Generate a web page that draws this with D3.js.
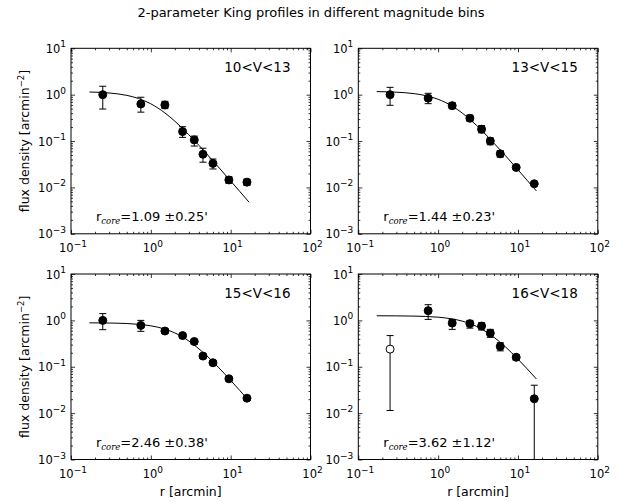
<!DOCTYPE html>
<html>
<head>
<meta charset="utf-8">
<script src="https://cdn.jsdelivr.net/npm/d3@7"></script>
<style>
  body { margin: 0; background: #fff; }
  text { font-family: "DejaVu Sans", sans-serif; fill: #000; }
</style>
</head>
<body>
<div id="chart"></div>
<script>
// ---- data ----
const radii = [0.25, 0.75, 1.5, 2.5, 3.5, 4.5, 6, 9.5, 16];
const binLabels = ["10<V<13", "13<V<15", "15<V<16", "16<V<18"];
const coreRadius = ["1.09", "1.44", "2.46", "3.62"];
const coreError = ["0.25", "0.23", "0.38", "1.12"];

// 10<V<13
const flux1 = [1.0, 0.63, 0.6, 0.16, 0.106, 0.052, 0.033, 0.0145, 0.013];
const hi1   = [1.52, 0.88, 0.72, 0.204, 0.128, 0.07, 0.041, 0.017, 0.015];
const lo1   = [0.49, 0.42, 0.5, 0.12, 0.078, 0.035, 0.025, 0.0123, 0.011];
// 13<V<15
const flux2 = [1.0, 0.84, 0.58, 0.31, 0.18, 0.1, 0.053, 0.027, 0.012];
const hi2   = [1.44, 1.07, 0.67, 0.36, 0.215, 0.117, 0.062, 0.029, 0.013];
const lo2   = [0.59, 0.64, 0.5, 0.27, 0.15, 0.083, 0.045, 0.025, 0.011];
// 15<V<16
const flux3 = [1.0, 0.78, 0.59, 0.47, 0.35, 0.17, 0.122, 0.055, 0.021];
const hi3   = [1.4, 1.0, 0.66, 0.52, 0.39, 0.19, 0.135, 0.06, 0.023];
const lo3   = [0.63, 0.58, 0.52, 0.42, 0.31, 0.15, 0.11, 0.05, 0.019];
// 16<V<18 (first point is the open circle, last lower error runs off the axis)
const flux4 = [0.24, 1.62, 0.875, 0.85, 0.755, 0.53, 0.274, 0.16, 0.0204];
const hi4   = [0.47, 2.18, 1.05, 1.0, 0.89, 0.64, 0.33, 0.18, 0.04];
const lo4   = [0.0114, 1.05, 0.64, 0.68, 0.62, 0.43, 0.22, 0.14, 0];
const hollow4 = [true, false, false, false, false, false, false, false, false];

// fitted King curves, sampled from the figure
const fitR = [0.17, 0.3, 0.5, 0.7, 1, 1.5, 2, 3, 4, 5, 7, 10, 13, 17];
const fit1 = [1.142, 1.088, 0.967, 0.828, 0.635, 0.404, 0.268, 0.136, 0.081, 0.053, 0.0277, 0.0137, 0.0082, 0.0048];
const fit2 = [1.164, 1.131, 1.053, 0.954, 0.796, 0.566, 0.403, 0.221, 0.135, 0.090, 0.0479, 0.0240, 0.0143, 0.0084];
const fit3 = [0.886, 0.877, 0.855, 0.823, 0.764, 0.649, 0.536, 0.358, 0.244, 0.174, 0.0978, 0.0508, 0.0308, 0.0183];
const fit4 = [1.257, 1.251, 1.236, 1.215, 1.171, 1.075, 0.965, 0.747, 0.567, 0.433, 0.266, 0.146, 0.0906, 0.0546];

const xTicks = [0.1, 1, 10, 100];
const xTickExp = ["\u22121", "0", "1", "2"];
const yTicks = [0.001, 0.01, 0.1, 1, 10];
const yTickExp = ["\u22123", "\u22122", "\u22121", "0", "1"];

const panels = [
  { flux: flux1, hi: hi1, lo: lo1, fit: fit1, hollow: [] },
  { flux: flux2, hi: hi2, lo: lo2, fit: fit2, hollow: [] },
  { flux: flux3, hi: hi3, lo: lo3, fit: fit3, hollow: [] },
  { flux: flux4, hi: hi4, lo: lo4, fit: fit4, hollow: hollow4 },
];

// ---- layout ----
const width = 623, height = 502;
const W = 239.5, H = 185.5;
const lefts = [71, 358.3];
const tops = [48.3, 274];

const svg = d3.select("#chart").append("svg")
  .attr("width", width).attr("height", height);

svg.append("text")
  .attr("x", 311).attr("y", 17)
  .attr("text-anchor", "middle")
  .style("font-size", "13px")
  .text("2-parameter King profiles in different magnitude bins");

const x = d3.scaleLog().domain([0.1, 100]).range([0, W]);
const y = d3.scaleLog().domain([1e-3, 10]).range([H, 0]);
const xMinor = x.ticks().filter(v => !xTicks.includes(v));
const yMinor = y.ticks().filter(v => !yTicks.some(t => Math.abs(t - v) < 1e-12));

const line = d3.line()
  .x(d => x(d[0]))
  .y(d => y(d[1]))
  .curve(d3.curveMonotoneX);

function tickAxes(g) {
  const add = (axis, tr) => g.append("g")
    .attr("transform", tr)
    .call(axis.tickSizeOuter(0).tickFormat(""))
    .call(a => a.select(".domain").remove())
    .call(a => a.selectAll("line").attr("stroke-width", 0.8));
  add(d3.axisBottom(x).tickValues(xTicks).tickSize(-4), `translate(0,${H})`);
  add(d3.axisBottom(x).tickValues(xMinor).tickSize(-2), `translate(0,${H})`);
  add(d3.axisTop(x).tickValues(xTicks).tickSize(-4), "translate(0,0)");
  add(d3.axisTop(x).tickValues(xMinor).tickSize(-2), "translate(0,0)");
  add(d3.axisLeft(y).tickValues(yTicks).tickSize(-4), "translate(0,0)");
  add(d3.axisLeft(y).tickValues(yMinor).tickSize(-2), "translate(0,0)");
  add(d3.axisRight(y).tickValues(yTicks).tickSize(-4), `translate(${W},0)`);
  add(d3.axisRight(y).tickValues(yMinor).tickSize(-2), `translate(${W},0)`);
}

function powLabel(sel, exp) {
  sel.append("tspan").text("10");
  sel.append("tspan").attr("dy", -5.5).style("font-size", "9px").text(exp);
}

panels.forEach((p, i) => {
  const col = i % 2, row = Math.floor(i / 2);
  const g = svg.append("g").attr("transform", `translate(${lefts[col]},${tops[row]})`);

  g.append("clipPath").attr("id", `clip${i}`)
    .append("rect").attr("width", W).attr("height", H);

  const plot = g.append("g").attr("clip-path", `url(#clip${i})`);

  // fit
  plot.append("path")
    .datum(fitR.map((r, k) => [r, p.fit[k]]))
    .attr("d", line)
    .attr("fill", "none")
    .attr("stroke", "#000")
    .attr("stroke-width", 1);

  // error bars
  const pts = radii.map((r, k) => ({ r, f: p.flux[k], hi: p.hi[k], lo: p.lo[k], open: !!p.hollow[k] }));
  const eb = plot.selectAll(".eb").data(pts).join("g").attr("class", "eb")
    .attr("stroke", "#000").attr("stroke-width", 1);
  eb.append("line")
    .attr("x1", d => x(d.r)).attr("x2", d => x(d.r))
    .attr("y1", d => d.lo > 0 ? y(d.lo) : H + 2)
    .attr("y2", d => y(d.hi));
  eb.append("line")
    .attr("x1", d => x(d.r) - 3.5).attr("x2", d => x(d.r) + 3.5)
    .attr("y1", d => y(d.hi)).attr("y2", d => y(d.hi));
  eb.filter(d => d.lo > 0).append("line")
    .attr("x1", d => x(d.r) - 3.5).attr("x2", d => x(d.r) + 3.5)
    .attr("y1", d => y(d.lo)).attr("y2", d => y(d.lo));

  // markers
  plot.selectAll("circle").data(pts).join("circle")
    .attr("cx", d => x(d.r)).attr("cy", d => y(d.f))
    .attr("r", 4)
    .attr("fill", d => d.open ? "#fff" : "#000")
    .attr("stroke", "#000").attr("stroke-width", 1);

  // frame + ticks
  tickAxes(g);
  g.append("rect").attr("width", W).attr("height", H)
    .attr("fill", "none").attr("stroke", "#000").attr("stroke-width", 1);

  // tick labels
  g.selectAll(".ytl").data(yTicks).join("text").attr("class", "ytl")
    .attr("x", -5).attr("y", d => y(d) + 4.5)
    .attr("text-anchor", "end")
    .style("font-size", "11.5px")
    .each(function (d, k) { powLabel(d3.select(this), yTickExp[k]); });
  g.selectAll(".xtl").data(xTicks).join("text").attr("class", "xtl")
    .attr("x", d => x(d) + 2).attr("y", H + 18.5)
    .attr("text-anchor", "middle")
    .style("font-size", "11.5px")
    .each(function (d, k) { powLabel(d3.select(this), xTickExp[k]); });

  // bin label
  g.append("text")
    .attr("x", W - 20).attr("y", 24)
    .attr("text-anchor", "end")
    .style("font-size", "13.5px")
    .text(binLabels[i]);

  // core radius annotation
  const t = g.append("text").attr("x", 25).attr("y", H - 13).style("font-size", "13px");
  t.append("tspan").text("r");
  t.append("tspan").attr("dy", 3.5)
    .style("font-family", "'DejaVu Serif', serif").style("font-style", "italic")
    .style("font-size", "8.5px").text("core");
  t.append("tspan").attr("dy", -3.5).text(`=${coreRadius[i]} \u00b1${coreError[i]}'`);

  if (col === 0) {
    const yl = g.append("text")
      .attr("transform", `translate(${29 - lefts[0]},${H / 2}) rotate(-90)`)
      .attr("text-anchor", "middle")
      .style("font-size", "12.5px");
    yl.append("tspan").text("flux density [arcmin");
    yl.append("tspan").attr("dy", -5).style("font-size", "8.5px").text("\u22122");
    yl.append("tspan").attr("dy", 5).text("]");
  }
  if (row === 1) {
    g.append("text")
      .attr("x", W / 2).attr("y", H + 36.5)
      .attr("text-anchor", "middle")
      .style("font-size", "12.5px")
      .text("r [arcmin]");
  }
});
</script>
</body>
</html>
